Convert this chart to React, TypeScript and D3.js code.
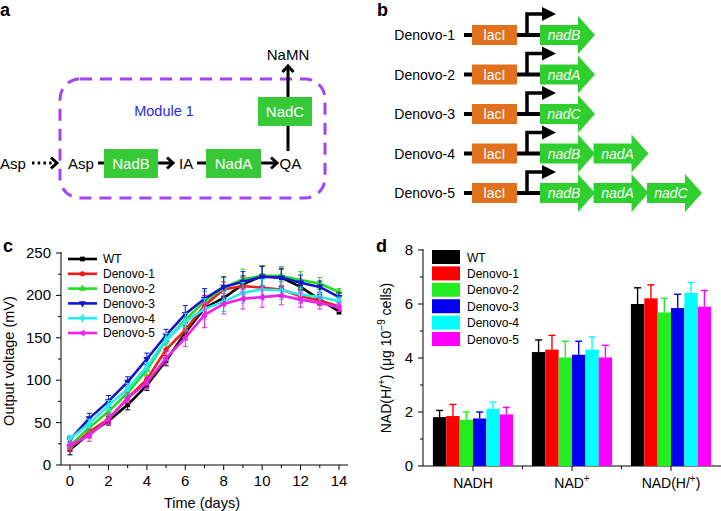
import React from 'react';
import * as d3 from 'd3';

const FONT = '"Liberation Sans", Arial, Helvetica, sans-serif';

// ---------- Panel b constructs ----------
const constructNames = ['Denovo-1', 'Denovo-2', 'Denovo-3', 'Denovo-4', 'Denovo-5'];
const constructGenes = [['nadB'], ['nadA'], ['nadC'], ['nadB', 'nadA'], ['nadB', 'nadA', 'nadC']];

// ---------- Panel c data ----------
const seriesNames = ['WT', 'Denovo-1', 'Denovo-2', 'Denovo-3', 'Denovo-4', 'Denovo-5'];
const days = [0, 1, 2, 3, 4, 5, 6, 7, 8, 9, 10, 11, 12, 13, 14];
const wtVoltage = [18, 37, 52, 71, 94, 123, 156, 185, 197, 213, 223, 221, 210, 195, 181];
const d1Voltage = [20, 39, 54, 79, 101, 136, 159, 188, 207, 211, 209, 207, 199, 194, 187];
const d2Voltage = [23, 44, 63, 85, 112, 147, 171, 193, 209, 219, 223, 223, 218, 214, 204];
const d3Voltage = [30, 55, 75, 98, 125, 153, 178, 196, 210, 216, 222, 221, 215, 210, 198];
const d4Voltage = [31, 49, 70, 90, 116, 148, 169, 184, 193, 203, 207, 206, 201, 198, 193];
const d5Voltage = [23, 35, 54, 79, 97, 126, 150, 177, 190, 196, 198, 200, 195, 191, 186];
const wtErr = [6, 5, 5, 6, 6, 6, 8, 10, 8, 10, 12, 10, 8, 6, 3];
const d1Err = [4, 6, 5, 5, 5, 7, 8, 12, 9, 10, 11, 9, 8, 6, 5];
const d2Err = [4, 5, 5, 5, 6, 6, 9, 12, 12, 12, 12, 11, 10, 7, 4];
const d3Err = [4, 6, 7, 6, 7, 7, 10, 12, 12, 12, 12, 11, 9, 7, 5];
const d4Err = [4, 5, 6, 6, 5, 7, 10, 12, 12, 12, 12, 11, 9, 7, 5];
const d5Err = [5, 7, 6, 6, 7, 8, 10, 15, 12, 12, 12, 11, 9, 7, 5];
const voltageTicks = [0, 50, 100, 150, 200, 250];
const dayTicks = [0, 2, 4, 6, 8, 10, 12, 14];

// ---------- Panel d data ----------
const nadCategories = ['NADH', 'NAD+', 'NAD(H/+)'];
const nadhValues = [1.81, 1.85, 1.71, 1.76, 2.12, 1.91];
const nadhErr = [0.25, 0.43, 0.29, 0.24, 0.25, 0.26];
const nadPlusValues = [4.22, 4.31, 4.02, 4.12, 4.31, 4.02];
const nadPlusErr = [0.45, 0.53, 0.6, 0.5, 0.47, 0.45];
const nadTotalValues = [6.0, 6.21, 5.69, 5.85, 6.41, 5.9];
const nadTotalErr = [0.6, 0.5, 0.52, 0.51, 0.39, 0.6];
const nadTicks = [0, 2, 4, 6, 8];

const lineColors = ['#000000', '#ee1c1c', '#22dd22', '#1515cc', '#22eeee', '#ee22ee'];
const barColors = ['#000000', '#ff0000', '#22ee22', '#0000ee', '#00ffff', '#ff00ff'];

const voltages = [wtVoltage, d1Voltage, d2Voltage, d3Voltage, d4Voltage, d5Voltage];
const voltErrs = [wtErr, d1Err, d2Err, d3Err, d4Err, d5Err];
const nadValues = [nadhValues, nadPlusValues, nadTotalValues];
const nadErrs = [nadhErr, nadPlusErr, nadTotalErr];

const GREEN = '#38c938';
const GENE_GREEN = '#2ecf2e';

function Chevron({ x, y, dir }: { x: number; y: number; dir: 'right' | 'up' }) {
  const p = dir === 'right'
    ? `M${x - 6},${y - 5.5}L${x},${y}L${x - 6},${y + 5.5}`
    : `M${x - 5.5},${y + 6}L${x},${y}L${x + 5.5},${y + 6}`;
  return <path d={p} fill="none" stroke="#000" strokeWidth={3} strokeLinejoin="miter" />;
}

function PanelA() {
  const rowY = 163;
  const box = (x0: number, x1: number, y0: number, y1: number, label: string) => (
    <g>
      <rect x={x0} y={y0} width={x1 - x0} height={y1 - y0} fill={GREEN} />
      <text x={(x0 + x1) / 2} y={(y0 + y1) / 2 + 5.5} textAnchor="middle" fill="#fff" fontSize={15}>{label}</text>
    </g>
  );
  return (
    <g fontFamily={FONT}>
      <text x={0} y={16} fontSize={18} fontWeight="bold">a</text>
      <rect x={60} y={79} width={265} height={119} rx={20} ry={20} fill="none" stroke="#a246ee" strokeWidth={3} strokeDasharray="12,8" />
      <text x={164} y={116} textAnchor="middle" fill="#2a2ae6" fontSize={14.5}>Module 1</text>
      <text x={0} y={169} fontSize={15}>Asp</text>
      <line x1={32} y1={rowY} x2={55} y2={rowY} stroke="#000" strokeWidth={3} strokeDasharray="2.5,3.2" />
      <Chevron x={57} y={rowY} dir="right" />
      <text x={68} y={169} fontSize={15}>Asp</text>
      <line x1={98} y1={rowY} x2={104} y2={rowY} stroke="#000" strokeWidth={3} />
      {box(104, 158, 149, 178, 'NadB')}
      <line x1={158} y1={rowY} x2={172} y2={rowY} stroke="#000" strokeWidth={3} />
      <Chevron x={173} y={rowY} dir="right" />
      <text x={179} y={169} fontSize={15}>IA</text>
      <line x1={197} y1={rowY} x2={206} y2={rowY} stroke="#000" strokeWidth={3} />
      {box(206, 261, 149, 178, 'NadA')}
      <line x1={261} y1={rowY} x2={276} y2={rowY} stroke="#000" strokeWidth={3} />
      <Chevron x={277} y={rowY} dir="right" />
      <text x={279.5} y={169} fontSize={15}>QA</text>
      <line x1={288} y1={151} x2={288} y2={126} stroke="#000" strokeWidth={3} />
      {box(258, 312, 97, 126, 'NadC')}
      <line x1={288} y1={97} x2={288} y2={67} stroke="#000" strokeWidth={3} />
      <Chevron x={288} y={66} dir="up" />
      <text x={288} y={60} textAnchor="middle" fontSize={15}>NaMN</text>
    </g>
  );
}

function GeneArrow({ x, y, label }: { x: number; y: number; label: string }) {
  const body = 38, head = 17, bh = 10, hh = 19;
  const d = `M${x},${y - bh}L${x + body},${y - bh}L${x + body},${y - hh}L${x + body + head},${y}L${x + body},${y + hh}L${x + body},${y + bh}L${x},${y + bh}Z`;
  return (
    <g>
      <path d={d} fill={GENE_GREEN} />
      <text x={x + 24} y={y + 5} textAnchor="middle" fill="#fff" fontSize={14} fontStyle="italic">{label}</text>
    </g>
  );
}

function PanelB() {
  const rowYs = d3.scaleLinear().domain([0, 4]).range([35, 193]);
  return (
    <g fontFamily={FONT}>
      <text x={377} y={16} fontSize={18} fontWeight="bold">b</text>
      {constructNames.map((name, i) => {
        const y = rowYs(i);
        const genes = constructGenes[i];
        return (
          <g key={name}>
            <text x={455} y={y + 5} textAnchor="end" fontSize={14}>{name}</text>
            <line x1={464} y1={y} x2={540} y2={y} stroke="#000" strokeWidth={4} />
            <rect x={472} y={y - 10} width={45} height={20} fill="#e2711d" />
            <text x={494.5} y={y + 5} textAnchor="middle" fill="#fff" fontSize={14}>lacI</text>
            <path d={`M527,${y}L527,${y - 21}L544,${y - 21}`} fill="none" stroke="#000" strokeWidth={3.5} />
            <path d={`M542,${y - 28}L556,${y - 21}L542,${y - 14}Z`} fill="#000" />
            {genes.map((g, j) => (
              <GeneArrow key={j} x={540 + j * 53.5} y={y} label={g} />
            ))}
          </g>
        );
      })}
    </g>
  );
}

function marker(i: number, x: number, y: number, color: string, key?: string) {
  const types = [d3.symbolSquare, d3.symbolCircle, d3.symbolTriangle, d3.symbolTriangle, d3.symbolDiamond, d3.symbolTriangle];
  const rot = [0, 0, 0, 180, 0, -90];
  const p = d3.symbol().type(types[i]).size(22)() as string;
  return <path key={key} d={p} transform={`translate(${x},${y}) rotate(${rot[i]})`} fill={color} />;
}

function PanelC() {
  const x = d3.scaleLinear().domain([0, 14]).range([70, 339]);
  const y = d3.scaleLinear().domain([0, 250]).range([465, 253]);
  const line = d3.line<number>().x((_, i) => x(days[i])).y((v) => y(v));
  const minorX = days.filter((d) => d % 2 === 1);
  const minorY = [25, 75, 125, 175, 225];
  return (
    <g fontFamily={FONT}>
      <text x={3} y={252} fontSize={18} fontWeight="bold">c</text>
      <line x1={61} y1={252} x2={61} y2={465} stroke="#000" strokeWidth={1} />
      <line x1={61} y1={465} x2={348} y2={465} stroke="#000" strokeWidth={1} />
      {voltageTicks.map((t) => (
        <g key={t}>
          <line x1={56} x2={61} y1={y(t)} y2={y(t)} stroke="#000" />
          <text x={51} y={y(t) + 5} textAnchor="end" fontSize={15}>{t}</text>
        </g>
      ))}
      {minorY.map((t) => <line key={t} x1={58} x2={61} y1={y(t)} y2={y(t)} stroke="#000" />)}
      {dayTicks.map((t) => (
        <g key={t}>
          <line x1={x(t)} x2={x(t)} y1={465} y2={470} stroke="#000" />
          <text x={x(t)} y={486} textAnchor="middle" fontSize={15}>{t}</text>
        </g>
      ))}
      {minorX.map((t) => <line key={t} x1={x(t)} x2={x(t)} y1={465} y2={468} stroke="#000" />)}
      <text x={202} y={508} textAnchor="middle" fontSize={14.5}>Time (days)</text>
      <text transform="translate(14,361) rotate(-90)" textAnchor="middle" fontSize={14.5}>Output voltage (mV)</text>
      {voltages.map((vals, si) => (
        <g key={si}>
          {vals.map((v, i) => {
            const e = voltErrs[si][i];
            const cx = x(days[i]);
            return (
              <g key={i} stroke={lineColors[si]} strokeWidth={1}>
                <line x1={cx} x2={cx} y1={y(v - e)} y2={y(v + e)} />
                <line x1={cx - 2.5} x2={cx + 2.5} y1={y(v - e)} y2={y(v - e)} />
                <line x1={cx - 2.5} x2={cx + 2.5} y1={y(v + e)} y2={y(v + e)} />
              </g>
            );
          })}
          <path d={line(vals) as string} fill="none" stroke={lineColors[si]} strokeWidth={2.6} strokeLinejoin="round" />
          {vals.map((v, i) => marker(si, x(days[i]), y(v), lineColors[si], `m${i}`))}
        </g>
      ))}
      {seriesNames.map((name, si) => {
        const ly = 259 + si * 14.8;
        return (
          <g key={name}>
            <line x1={68} x2={97} y1={ly} y2={ly} stroke={lineColors[si]} strokeWidth={2.6} />
            {marker(si, 82.5, ly, lineColors[si])}
            <text x={103} y={ly + 4.3} fontSize={12}>{name}</text>
          </g>
        );
      })}
    </g>
  );
}

function PanelD() {
  const y = d3.scaleLinear().domain([0, 8]).range([466, 250]);
  const x0 = d3.scaleBand<string>().domain(nadCategories).range([423.5, 720.5]).paddingInner(0.19).paddingOuter(0.095);
  const x1 = d3.scaleBand<string>().domain(seriesNames).range([0, x0.bandwidth()]);
  const minorY = [1, 3, 5, 7];
  const catLabel = (c: string) => {
    if (c === 'NAD+') return (<><tspan>NAD</tspan><tspan dy={-6} fontSize={10}>+</tspan></>);
    if (c === 'NAD(H/+)') return (<><tspan>NAD(H/</tspan><tspan dy={-6} fontSize={10}>+</tspan><tspan dy={6}>)</tspan></>);
    return c;
  };
  return (
    <g fontFamily={FONT}>
      <text x={376} y={252} fontSize={18} fontWeight="bold">d</text>
      <line x1={423} y1={249} x2={423} y2={466} stroke="#000" />
      <line x1={423} y1={466} x2={721} y2={466} stroke="#000" />
      {nadTicks.map((t) => (
        <g key={t}>
          <line x1={418} x2={423} y1={y(t)} y2={y(t)} stroke="#000" />
          <text x={413} y={y(t) + 5} textAnchor="end" fontSize={15}>{t}</text>
        </g>
      ))}
      {minorY.map((t) => <line key={t} x1={420} x2={423} y1={y(t)} y2={y(t)} stroke="#000" />)}
      {nadCategories.map((c) => {
        const cx = (x0(c) as number) + x0.bandwidth() / 2;
        return (
          <g key={c}>
            <line x1={cx} x2={cx} y1={466} y2={471} stroke="#000" />
            <text x={cx} y={488} textAnchor="middle" fontSize={14}>{catLabel(c)}</text>
          </g>
        );
      })}
      {[1, 2].map((k) => {
        const bx = (x0(nadCategories[k]) as number) - x0.step() * 0.095;
        return <line key={k} x1={bx} x2={bx} y1={466} y2={469} stroke="#000" />;
      })}
      <text transform="translate(391,358) rotate(-90)" textAnchor="middle" fontSize={14}>
        <tspan>NAD(H/</tspan><tspan dy={-6} fontSize={10}>+</tspan><tspan dy={6}>) (μg 10</tspan><tspan dy={-6} fontSize={10}>−9</tspan><tspan dy={6}> cells)</tspan>
      </text>
      {nadCategories.map((c, ci) => (
        <g key={c}>
          {seriesNames.map((s, si) => {
            const v = nadValues[ci][si];
            const e = nadErrs[ci][si];
            const bx = (x0(c) as number) + (x1(s) as number);
            const bw = x1.bandwidth();
            const cx = bx + bw / 2;
            return (
              <g key={s}>
                <rect x={bx} y={y(v)} width={bw} height={y(0) - y(v)} fill={barColors[si]} />
                <line x1={cx} x2={cx} y1={y(v)} y2={y(v + e)} stroke={barColors[si]} strokeWidth={1.4} />
                <line x1={cx - 3.5} x2={cx + 3.5} y1={y(v + e)} y2={y(v + e)} stroke={barColors[si]} strokeWidth={1.4} />
              </g>
            );
          })}
        </g>
      ))}
      {seriesNames.map((s, si) => {
        const ly = 257 + si * 16.4;
        return (
          <g key={s}>
            <rect x={432} y={ly - 7} width={28} height={14} fill={barColors[si]} />
            <text x={467} y={ly + 4.5} fontSize={12}>{s}</text>
          </g>
        );
      })}
    </g>
  );
}

export default function App() {
  return (
    <svg width={721} height={511} viewBox="0 0 721 511" style={{ position: 'absolute', left: 0, top: 0, background: '#fff' }}>
      <rect x={0} y={0} width={721} height={511} fill="#fff" />
      <PanelA />
      <PanelB />
      <PanelC />
      <PanelD />
    </svg>
  );
}
